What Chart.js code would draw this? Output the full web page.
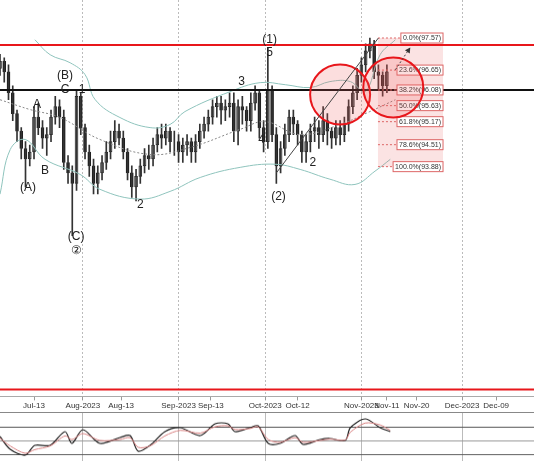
<!DOCTYPE html>
<html>
<head>
<meta charset="utf-8">
<script src="https://cdn.jsdelivr.net/npm/chart.js@4.4.0/dist/chart.umd.min.js"></script>
<style>
  body { margin: 0; background: #fff; width: 534px; height: 462px; overflow: hidden; font-family: "Liberation Sans", Arial, sans-serif; }
  #main { position: absolute; left: 0; top: 0; }
  #osc { position: absolute; left: 0; top: 412px; border-top: 1px solid #888; }
</style>
</head>
<body>
<canvas id="main" width="534" height="412"></canvas>
<canvas id="osc" width="534" height="49"></canvas>
<script>
// daily candles, index 0 = Jul 3 2023 (weekdays only)
let opens = [96.5, 96.7, 96.9, 96.6, 96.0, 95.4, 94.9, 94.4, 94.1, 94.3, 95.3, 95.0, 94.7, 94.8, 95.3, 95.6, 95.3, 94.0, 93.7, 93.4,
  95.9, 95.0, 94.3, 93.9, 93.4, 93.7, 94.0, 94.3, 94.6, 94.9, 94.7, 94.3, 93.7, 93.3, 93.6, 93.9, 94.2, 94.1, 94.5, 94.8,
  94.7, 94.9, 94.6, 94.6, 94.3, 94.5, 94.6, 94.3, 94.6, 94.9, 95.1, 95.3, 95.6, 95.7, 95.5, 95.6, 95.7, 94.9, 95.6, 95.5,
  95.2, 95.7, 96.0, 95.0, 94.6, 96.1, 94.8, 93.9, 94.4, 94.8, 95.3, 95.1, 94.8, 94.3, 94.6, 94.9, 95.0, 94.8, 95.2, 94.9,
  94.7, 95.0, 94.8, 95.1, 95.6, 96.0, 96.5, 96.8, 97.2, 97.4, 96.6, 96.5, 96.2];
let closes = [96.7, 96.9, 96.6, 96.0, 95.4, 94.9, 94.4, 94.1, 94.3, 95.3, 95.0, 94.7, 94.8, 95.3, 95.6, 95.3, 94.0, 93.7, 93.4, 95.9,
  95.0, 94.3, 93.9, 93.4, 93.7, 94.0, 94.3, 94.6, 94.9, 94.7, 94.3, 93.7, 93.3, 93.6, 93.9, 94.2, 94.1, 94.5, 94.8, 94.7,
  94.9, 94.6, 94.6, 94.3, 94.5, 94.6, 94.3, 94.6, 94.9, 95.1, 95.3, 95.6, 95.7, 95.5, 95.6, 95.7, 94.9, 95.6, 95.5, 95.2,
  95.7, 96.0, 95.0, 94.6, 96.1, 94.8, 93.9, 94.4, 94.8, 95.3, 95.1, 94.8, 94.3, 94.6, 94.9, 95.0, 94.8, 95.2, 94.9, 94.7,
  95.0, 94.8, 95.1, 95.6, 96.0, 96.5, 96.8, 97.2, 97.4, 96.6, 96.5, 96.2, 96.6];
let highs = [96.9, 97.1, 97.0, 96.8, 96.2, 95.5, 95.0, 94.6, 94.5, 95.6, 95.7, 95.2, 95.0, 95.5, 95.9, 95.8, 95.5, 94.2, 93.9, 96.1,
  96.0, 95.1, 94.5, 94.1, 93.9, 94.2, 94.6, 94.9, 95.2, 95.1, 94.9, 94.4, 93.9, 93.8, 94.1, 94.4, 94.5, 94.7, 95.0, 95.1,
  95.1, 95.0, 94.9, 94.8, 94.7, 94.8, 94.7, 94.8, 95.1, 95.3, 95.5, 95.8, 95.9, 95.9, 95.8, 96.0, 96.0, 95.8, 95.9, 95.6,
  96.0, 96.2, 96.1, 95.2, 97.3, 96.2, 95.0, 94.6, 95.1, 95.5, 95.5, 95.2, 94.9, 94.8, 95.1, 95.3, 95.2, 95.6, 95.4, 95.0,
  95.2, 95.2, 95.3, 95.8, 96.2, 96.7, 97.0, 97.4, 97.57, 97.5, 96.8, 96.6, 96.8];
let lows = [96.3, 96.5, 96.3, 95.8, 95.2, 94.6, 94.1, 93.3, 93.9, 94.1, 94.8, 94.4, 94.2, 94.6, 95.1, 95.0, 93.8, 93.4, 91.9, 93.2,
  94.8, 94.1, 93.6, 93.1, 93.1, 93.5, 93.8, 94.1, 94.4, 94.5, 94.1, 93.5, 93.0, 92.9, 93.4, 93.7, 93.8, 93.9, 94.3, 94.4,
  94.5, 94.3, 94.2, 94.0, 94.0, 94.2, 94.0, 94.0, 94.4, 94.7, 94.9, 95.1, 95.3, 95.1, 95.2, 95.3, 94.6, 94.5, 95.1, 94.9,
  94.9, 95.5, 94.7, 94.3, 94.4, 94.6, 93.4, 93.7, 94.2, 94.6, 94.8, 94.5, 94.0, 94.0, 94.3, 94.6, 94.4, 94.6, 94.5, 94.4,
  94.5, 94.5, 94.6, 94.9, 95.4, 95.8, 96.3, 96.6, 97.0, 96.4, 96.1, 95.9, 96.0];

// Bollinger bands (bar index, price)
let upperX = [9.2, 12.8, 17.5, 21, 23.4, 29.2, 36.3, 41, 44.5, 55.1, 62.2, 68.1, 74, 78.6, 83.4, 86.9, 90.4, 94];
let upperY = [97.52, 97.09, 96.86, 96.52, 95.80, 95.29, 95.00, 95.09, 95.46, 96.03, 96.29, 96.23, 96.15, 96.32, 96.32, 96.03, 97.09, 97.52];
let lowerX = [1, 3.4, 6.9, 11.6, 19.8, 24.5, 33.9, 41, 48.1, 57.5, 65.7, 71.6, 78.6, 84.5, 89.2, 92.8];
let lowerY = [93.09, 94.37, 94.66, 94.09, 93.66, 93.23, 92.95, 93.17, 93.57, 93.86, 93.95, 93.80, 93.52, 93.37, 93.75, 94.09];
let midX = [1, 8, 15.1, 24.5, 36.3, 45.7, 57.5, 63.4, 71.6, 81, 88, 94];
let midY = [95.80, 95.52, 95.29, 94.66, 94.23, 94.43, 94.95, 95.17, 94.80, 95.09, 95.46, 95.80];

// x axis tick labels and their bar positions
let tickPos = [9, 20.5, 29.5, 43, 50.6, 63.4, 71, 86, 92, 99, 109.7, 117.7];
let tickText = ['Jul-13', 'Aug-2023', 'Aug-13', 'Sep-2023', 'Sep-13', 'Oct-2023', 'Oct-12', 'Nov-2023', 'Nov-11', 'Nov-20', 'Dec-2023', 'Dec-09'];
let monthTicks = [20.5, 43, 63.4, 86, 109.7];

// fibonacci levels
let fibPct = ['0.0%', '23.6%', '38.2%', '50.0%', '61.8%', '78.6%', '100.0%'];
let fibVal = [97.57, 96.65, 96.08, 95.63, 95.17, 94.51, 93.88];

// horizontal levels
let redLevels = [97.37, 87.49];
let blackLevel = 96.08;

// wave labels
let waveText = ['(B)', 'C', 'A', 'B', '(A)', '1', '(C)', '②', '2', '3', '4', '5', '(1)', '(2)', '2'];
let waveX = [16.3, 16.3, 9.7, 11.6, 7.6, 20.3, 18.9, 18.9, 34.0, 57.8, 62.5, 64.4, 64.4, 66.5, 74.6];
let waveY = [96.49, 96.09, 95.66, 93.75, 93.29, 96.09, 91.86, 91.46, 92.80, 96.32, 94.66, 97.15, 97.52, 93.03, 94.00];

// oscillator
let oscX = [1, 3.4, 6.9, 9.2, 12.8, 16.3, 17.9, 20.5, 24.5, 29.2, 31.6, 33.5, 36.3, 39.8, 43.4, 48.1, 51.6, 54.6, 56.3, 59.8, 61.7, 64.1, 66.9, 70.4, 72.3, 76.3, 78.6, 82.2, 83.4, 86.9, 90.4, 92.8];
let oscMain = [58.6, 30.7, 17.9, 39.3, 39.3, 69.3, 43.6, 73.6, 43.6, 56.4, 60.7, 26.4, 39.3, 69.3, 77.9, 60.7, 86.4, 86.4, 69.3, 77.9, 82.1, 43.6, 43.6, 60.7, 41.4, 52.1, 54.3, 50, 77.9, 97.1, 77.9, 69.3];
let oscSignal = [55, 38, 22, 30, 38, 60, 52, 65, 50, 52, 56, 35, 38, 60, 72, 66, 80, 82, 74, 76, 80, 52, 46, 56, 46, 50, 53, 51, 68, 88, 84, 72];

const xMin = 1, xMax = 126.6;
const pts = (xs, ys) => xs.map((x, i) => ({x: x, y: ys[i]}));

let bodies = closes.map((c, i) => ({x: i, y: [opens[i], c]}));
let wicks = closes.map((c, i) => ({x: i, y: [lows[i], highs[i]]}));
let bodyColors = closes.map((c, i) => c >= opens[i] ? '#ffffff' : '#111111');

const overlay = {
  id: 'overlay',
  afterDatasetsDraw(chart) {
    const ctx = chart.ctx, xs = chart.scales.x, ys = chart.scales.y;
    const a = chart.chartArea;
    ctx.save();
    // fib box
    let fx0 = xs.getPixelForValue(89.9), fx1 = xs.getPixelForValue(105.2);
    ctx.fillStyle = 'rgba(230,80,80,0.16)';
    ctx.fillRect(fx0, ys.getPixelForValue(fibVal[0]), fx1 - fx0, ys.getPixelForValue(fibVal[6]) - ys.getPixelForValue(fibVal[0]));
    // levels
    ctx.lineWidth = 2;
    ctx.strokeStyle = '#e8161b';
    redLevels.forEach(v => { let y = ys.getPixelForValue(v); ctx.beginPath(); ctx.moveTo(a.left, y); ctx.lineTo(a.right, y); ctx.stroke(); });
    ctx.strokeStyle = '#111';
    let by = ys.getPixelForValue(blackLevel);
    ctx.beginPath(); ctx.moveTo(a.left, by); ctx.lineTo(a.right, by); ctx.stroke();
    // fib lines and labels
    ctx.font = '7px "Liberation Sans", Arial';
    ctx.textBaseline = 'middle';
    fibVal.forEach((v, i) => {
      let y = ys.getPixelForValue(v);
      ctx.setLineDash([2, 2]); ctx.lineWidth = 1; ctx.strokeStyle = '#d66';
      ctx.beginPath(); ctx.moveTo(fx0, y); ctx.lineTo(fx1 - 30, y); ctx.stroke();
      ctx.setLineDash([]);
      let t = fibPct[i] + '(' + v.toFixed(2) + ')';
      let w = ctx.measureText(t).width + 4;
      ctx.fillStyle = '#fff'; ctx.fillRect(fx1 - w, y - 5, w, 10);
      ctx.strokeStyle = '#d66'; ctx.strokeRect(fx1 - w, y - 5, w, 10);
      ctx.fillStyle = '#333'; ctx.fillText(t, fx1 - w + 2, y);
    });
    // circles
    [[81, 95.95], [93.5, 96.15]].forEach(c => {
      ctx.beginPath(); ctx.arc(xs.getPixelForValue(c[0]), ys.getPixelForValue(c[1]), 30, 0, Math.PI * 2);
      ctx.fillStyle = 'rgba(240,90,90,0.2)'; ctx.fill();
      ctx.lineWidth = 2; ctx.strokeStyle = '#e8161b'; ctx.stroke();
    });
    // trend line and arrow
    ctx.lineWidth = 1; ctx.strokeStyle = '#444';
    ctx.beginPath(); ctx.moveTo(xs.getPixelForValue(66), ys.getPixelForValue(93.7)); ctx.lineTo(xs.getPixelForValue(90), ys.getPixelForValue(97.57)); ctx.stroke();
    let ax0 = xs.getPixelForValue(94), ay0 = ys.getPixelForValue(96.66), ax1 = xs.getPixelForValue(97.5), ay1 = ys.getPixelForValue(97.3);
    ctx.setLineDash([2, 2]);
    ctx.beginPath(); ctx.moveTo(ax0, ay0); ctx.lineTo(ax1, ay1); ctx.stroke();
    ctx.setLineDash([]);
    let ang = Math.atan2(ay1 - ay0, ax1 - ax0);
    ctx.fillStyle = '#333';
    ctx.beginPath(); ctx.moveTo(ax1, ay1);
    ctx.lineTo(ax1 - 6 * Math.cos(ang - 0.5), ay1 - 6 * Math.sin(ang - 0.5));
    ctx.lineTo(ax1 - 6 * Math.cos(ang + 0.5), ay1 - 6 * Math.sin(ang + 0.5));
    ctx.fill();
    // wave labels
    ctx.font = '12px "Liberation Sans", Arial';
    ctx.textAlign = 'center';
    ctx.fillStyle = '#222';
    waveText.forEach((t, i) => ctx.fillText(t, xs.getPixelForValue(waveX[i]), ys.getPixelForValue(waveY[i])));
    ctx.restore();
  }
};

new Chart(document.getElementById('main'), {
  type: 'bar',
  data: {
    datasets: [
      { type: 'line', data: pts(upperX, upperY), borderColor: '#8fc4bd', borderWidth: 1, pointRadius: 0, tension: 0.4 },
      { type: 'line', data: pts(lowerX, lowerY), borderColor: '#8fc4bd', borderWidth: 1, pointRadius: 0, tension: 0.4 },
      { type: 'line', data: pts(midX, midY), borderColor: '#888', borderWidth: 1, borderDash: [2, 2], pointRadius: 0, tension: 0.4 },
      { data: wicks, backgroundColor: '#333', barThickness: 1, grouped: false },
      { data: bodies, backgroundColor: bodyColors, borderColor: '#222', borderWidth: 1, borderSkipped: false, barThickness: 3, grouped: false }
    ]
  },
  options: {
    responsive: false, animation: false,
    layout: { padding: 0 },
    plugins: { legend: { display: false }, tooltip: { enabled: false } },
    scales: {
      x: {
        type: 'linear', min: xMin, max: xMax, offset: false,
        afterBuildTicks: s => { s.ticks = tickPos.map(v => ({value: v})); },
        ticks: { autoSkip: false, maxRotation: 0, font: { size: 8 }, color: '#333', padding: 1,
          callback: (v, i) => tickText[i] },
        grid: { offset: false, color: c => c.tick && monthTicks.includes(c.tick.value) ? '#bbb' : 'rgba(0,0,0,0)',
          tickColor: '#999', tickLength: 4 },
        border: { color: '#aaa', dash: [2, 2] }
      },
      y: { display: false, min: 87.29, max: 98.66 }
    }
  },
  plugins: [overlay]
});

new Chart(document.getElementById('osc'), {
  type: 'line',
  data: {
    datasets: [
      { data: pts(oscX, oscSignal), borderColor: '#d98080', borderWidth: 1, pointRadius: 0, tension: 0.3 },
      { data: pts(oscX, oscMain), borderColor: '#222', borderWidth: 1.2, pointRadius: 0, tension: 0.3 }
    ]
  },
  options: {
    responsive: false, animation: false,
    layout: { padding: 0 },
    plugins: { legend: { display: false }, tooltip: { enabled: false } },
    scales: {
      x: { type: 'linear', min: xMin, max: xMax, display: true, ticks: { display: false },
        afterBuildTicks: s => { s.ticks = monthTicks.map(v => ({value: v})); },
        grid: { color: '#bbb', drawTicks: false }, border: { display: false } },
      y: { min: 5, max: 110, display: true, ticks: { display: false },
        afterBuildTicks: s => { s.ticks = [20, 50, 80].map(v => ({value: v})); },
        grid: { color: c => c.tick && c.tick.value === 50 ? '#999' : '#555', drawTicks: false }, border: { display: false } }
    }
  }
});
</script>
</body>
</html>
